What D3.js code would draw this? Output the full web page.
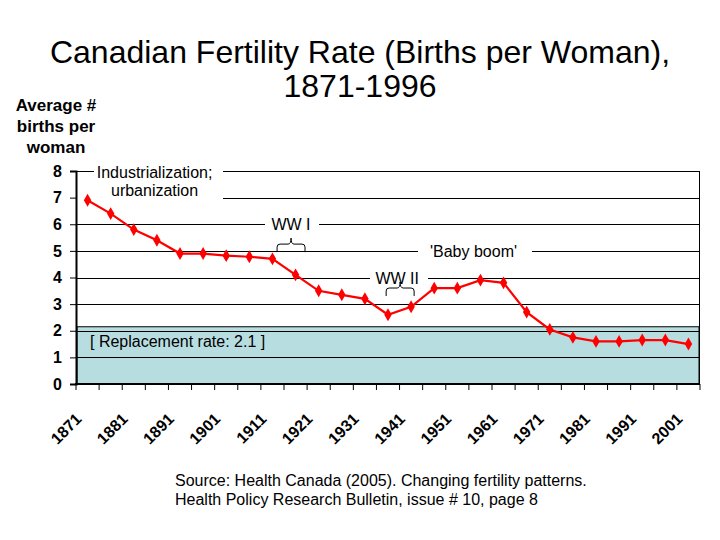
<!DOCTYPE html>
<html>
<head>
<meta charset="utf-8">
<script src="https://cdn.jsdelivr.net/npm/d3@7"></script>
<style>
  body{margin:0;background:#fff;}
  svg{display:block;font-family:"Liberation Sans",Arial,sans-serif;}
</style>
</head>
<body>
<div id="chart"></div>
<script>
// census years and births per woman
const years=[1871,1876,1881,1886,1891,1896,1901,1906,1911,1916,1921,1926,1931,1936,1941,1946,1951,1956,1961,1966,1971,1976,1981,1986,1991,1996,2001];
const rates=[6.9,6.4,5.8,5.4,4.9,4.9,4.82,4.78,4.7,4.1,3.5,3.35,3.2,2.6,2.9,3.6,3.6,3.9,3.8,2.7,2.05,1.75,1.6,1.6,1.65,1.65,1.5];
const yTicks=[0,1,2,3,4,5,6,7,8];
const replacementRate=2.15;

// annotations: text, value on y, centre year index
const notes=[
    {lines:["Industrialization;","urbanization"],at:7.96,col:2.9},
    {lines:["WW I"],at:6,col:8.8},
    {lines:["WW II"],at:4,col:13.4},
    {lines:["'Baby boom'"],at:5,col:16.7}
];
// braces under the war labels (from index to index)
const braces=[
    {from:8.2,to:9.41,at:5.48},
    {from:12.92,to:14.13,at:3.83}
];

const W=720,H=540;
const svg=d3.select("#chart").append("svg").attr("width",W).attr("height",H);

const x=d3.scaleBand().domain(years).range([76,700]);
const y=d3.scaleLinear().domain([0,8]).range([384,171]);
const bw=x.bandwidth();
const xc=function(i){return x(years[0])+bw*(i+0.5);};

// title
svg.append("text").attr("x",360).attr("y",63).attr("text-anchor","middle")
    .style("font-size","32px").text("Canadian Fertility Rate (Births per Woman),");
svg.append("text").attr("x",360).attr("y",97).attr("text-anchor","middle")
    .style("font-size","32px").text("1871-1996");

// y axis title
["Average #","births per","woman"].forEach(function(t,i){
    svg.append("text").attr("x",56).attr("y",111+i*21).attr("text-anchor","middle")
        .style("font-size","17px").style("font-weight","bold").text(t);
});

// replacement rate band
svg.append("rect")
    .attr("x",x.range()[0]+1).attr("y",y(replacementRate))
    .attr("width",x.range()[1]-x.range()[0]-2).attr("height",y(0)-y(replacementRate))
    .attr("fill","#b8dde1").attr("stroke","#000").attr("stroke-width",1);

// grid lines
svg.append("g").selectAll("line").data(yTicks.filter(d=>d>0)).enter().append("line")
    .attr("x1",x.range()[0]).attr("x2",x.range()[1])
    .attr("y1",d=>Math.round(y(d))+0.5).attr("y2",d=>Math.round(y(d))+0.5)
    .attr("stroke","#000").attr("stroke-width",1);
// right border
svg.append("line").attr("x1",x.range()[1]-0.5).attr("x2",x.range()[1]-0.5)
    .attr("y1",y(8)).attr("y2",y(0)).attr("stroke","#000");

// white boxes behind the notes
svg.append("rect").attr("x",94).attr("y",163).attr("width",129).attr("height",22).attr("fill","#fff");
svg.append("rect").attr("x",77).attr("y",185).attr("width",146).attr("height",17).attr("fill","#fff");
svg.append("rect").attr("x",265).attr("y",217).attr("width",54).attr("height",14).attr("fill","#fff");
svg.append("rect").attr("x",370).attr("y",271).attr("width",58).attr("height",14).attr("fill","#fff");
svg.append("rect").attr("x",418).attr("y",244).attr("width",114).attr("height",14).attr("fill","#fff");

// note texts
notes.forEach(function(n){
    n.lines.forEach(function(t,i){
        svg.append("text").attr("x",xc(n.col)).attr("y",y(n.at)+6+i*18)
            .attr("text-anchor","middle").style("font-size","16px").text(t);
    });
});
svg.append("text").attr("x",90).attr("y",347).style("font-size","16px")
    .text("[ Replacement rate: 2.1 ]");

// curly braces
braces.forEach(function(b){
    var x0=xc(b.from),x1=xc(b.to),m=(x0+x1)/2,top=y(b.at),h=top+6;
    var p="M"+x0+","+(top+14)+" L"+x0+","+(h+3)+" Q"+x0+","+h+" "+(x0+3)+","+h
        +" L"+(m-3)+","+h+" Q"+m+","+h+" "+m+","+top
        +" Q"+m+","+h+" "+(m+3)+","+h
        +" L"+(x1-3)+","+h+" Q"+x1+","+h+" "+x1+","+(h+3)+" L"+x1+","+(top+14);
    svg.append("path").attr("d",p).attr("fill","none").attr("stroke","#000").attr("stroke-width",1);
});

// data line
const line=d3.line().x((d,i)=>x(years[i])+bw/2).y(d=>y(d));
svg.append("path").datum(rates).attr("d",line)
    .attr("fill","none").attr("stroke","#ff0000").attr("stroke-width",2.2);
svg.append("g").selectAll("path").data(rates).enter().append("path")
    .attr("d",d3.symbol(d3.symbolDiamond).size(48))
    .attr("transform",(d,i)=>"translate("+(x(years[i])+bw/2)+","+y(d)+")")
    .attr("fill","#ff0000");

// y axis
const yAxis=svg.append("g").attr("transform","translate("+x.range()[0]+",0)")
    .call(d3.axisLeft(y).tickValues(yTicks).tickSize(6).tickPadding(8).tickFormat(d3.format("d")));
yAxis.select(".domain").attr("stroke-width",2);
yAxis.selectAll("text").style("font-size","16px").style("font-weight","bold")
    .style("font-family","'Liberation Sans',Arial,sans-serif").attr("fill","#000");

// x axis, ticks on band edges
svg.append("line").attr("x1",x.range()[0]-1).attr("x2",x.range()[1])
    .attr("y1",y(0)).attr("y2",y(0)).attr("stroke","#000").attr("stroke-width",2);
svg.append("g").selectAll("line").data(years.concat([null])).enter().append("line")
    .attr("x1",(d,i)=>x.range()[0]+i*bw).attr("x2",(d,i)=>x.range()[0]+i*bw)
    .attr("y1",y(0)).attr("y2",y(0)+6).attr("stroke","#000");
svg.append("g").selectAll("text").data(years.filter((d,i)=>i%2==0)).enter().append("text")
    .attr("transform",d=>"translate("+(x(d)+bw/2-5)+","+(y(0)+36)+") rotate(-45)")
    .attr("text-anchor","end").style("font-size","16px").style("font-weight","bold")
    .text(d=>d);

// source
svg.append("text").attr("x",175).attr("y",486).style("font-size","16px")
    .text("Source: Health Canada (2005). Changing fertility patterns.");
svg.append("text").attr("x",175).attr("y",505).style("font-size","16px")
    .text("Health Policy Research Bulletin, issue # 10, page 8");
</script>
</body>
</html>
